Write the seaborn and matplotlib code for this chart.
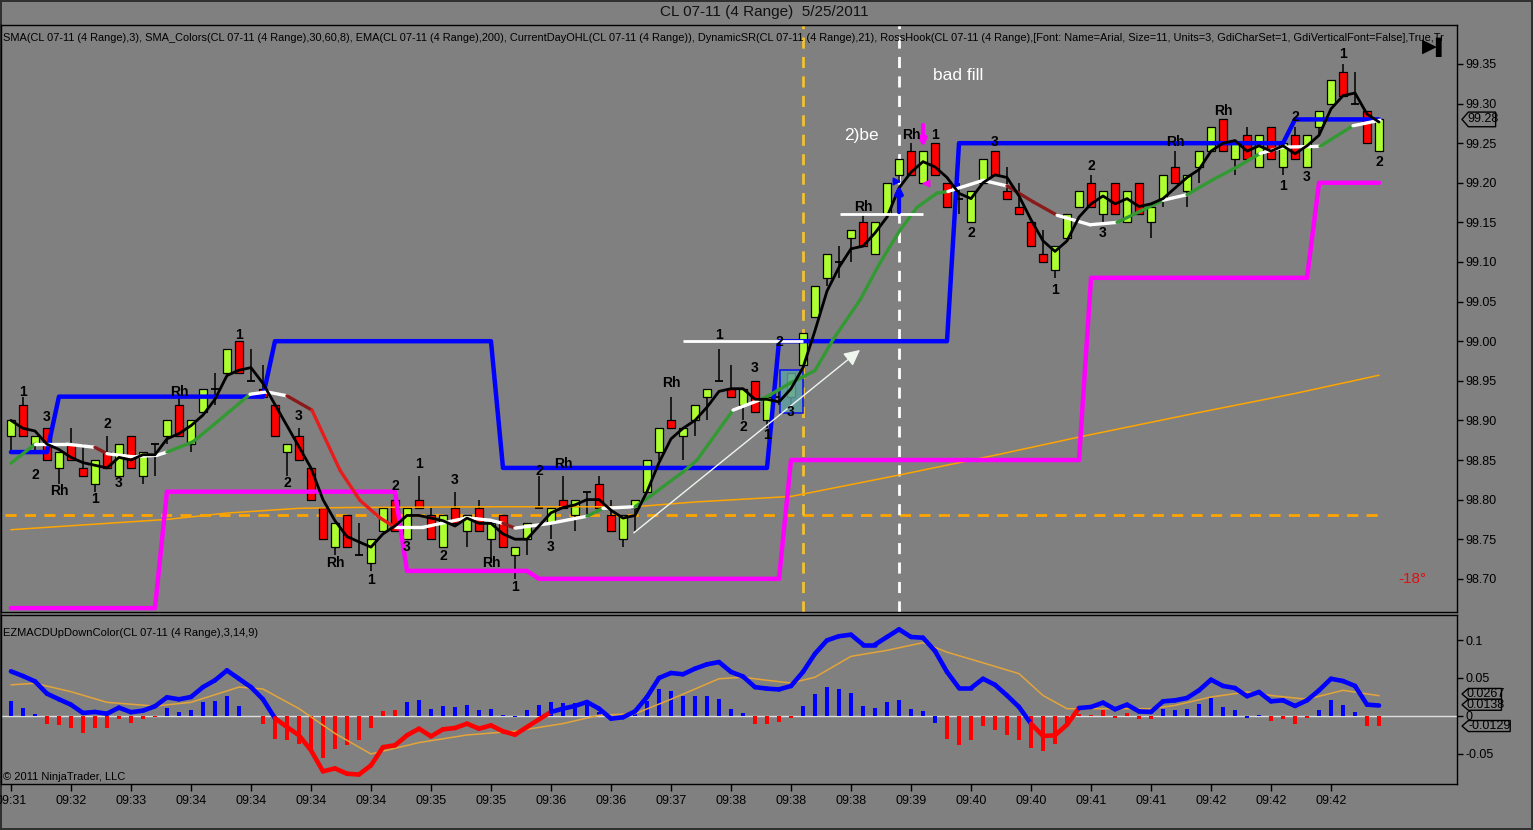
import numpy as np
import pandas as pd
import matplotlib
matplotlib.use("Agg")
import matplotlib.pyplot as plt
import matplotlib.transforms as mtransforms
from matplotlib.collections import LineCollection
from matplotlib.patches import Rectangle, Polygon
import seaborn as sns

sns.set_theme(style="white")
NARROW = ['Liberation Sans Narrow', 'Liberation Sans', 'DejaVu Sans']
plt.rcParams['font.family'] = NARROW
plt.rcParams['axes.unicode_minus'] = False

# ---------------- data ----------------
opens = [
    98.88, 98.92, 98.87, 98.89, 98.84, 98.87, 98.84, 98.82, 98.86, 98.83,
    98.88, 98.83, 98.87, 98.88, 98.92, 98.87, 98.91, 98.94, 98.96, 99.00,
    98.95, 98.94, 98.92, 98.86, 98.88, 98.84, 98.79, 98.74, 98.78, 98.73,
    98.72, 98.76, 98.80, 98.75, 98.80, 98.78, 98.74, 98.79, 98.76, 98.79,
    98.75, 98.78, 98.73, 98.75, 98.79, 98.77, 98.80, 98.78, 98.81, 98.82,
    98.78, 98.75, 98.79, 98.81, 98.86, 98.90, 98.88, 98.90, 98.93, 98.95,
    98.94, 98.92, 98.95, 98.90, 98.93, 98.93, 98.97, 99.03, 99.08, 99.10,
    99.13, 99.15, 99.11, 99.16, 99.21, 99.24, 99.20, 99.25, 99.20, 99.18,
    99.15, 99.20, 99.24, 99.19, 99.17, 99.15, 99.11, 99.09, 99.13, 99.17,
    99.20, 99.16, 99.20, 99.15, 99.20, 99.15, 99.18, 99.22, 99.19, 99.22,
    99.24, 99.28, 99.23, 99.26, 99.22, 99.27, 99.22, 99.26, 99.22, 99.27,
    99.30, 99.34, 99.30, 99.29, 99.24]
highs = [
    98.90, 98.93, 98.88, 98.89, 98.86, 98.89, 98.87, 98.85, 98.88, 98.87,
    98.88, 98.86, 98.87, 98.90, 98.93, 98.90, 98.94, 98.96, 98.99, 99.00,
    98.99, 98.97, 98.92, 98.87, 98.89, 98.84, 98.79, 98.77, 98.78, 98.77,
    98.75, 98.79, 98.80, 98.79, 98.83, 98.79, 98.78, 98.81, 98.78, 98.80,
    98.77, 98.78, 98.74, 98.77, 98.83, 98.79, 98.83, 98.80, 98.81, 98.83,
    98.80, 98.78, 98.80, 98.85, 98.89, 98.93, 98.89, 98.92, 98.94, 98.99,
    98.97, 98.94, 98.95, 98.93, 98.94, 98.96, 99.01, 99.07, 99.11, 99.12,
    99.14, 99.16, 99.15, 99.20, 99.23, 99.25, 99.24, 99.25, 99.20, 99.20,
    99.19, 99.23, 99.24, 99.22, 99.20, 99.15, 99.14, 99.12, 99.16, 99.19,
    99.21, 99.19, 99.20, 99.19, 99.20, 99.17, 99.21, 99.24, 99.21, 99.24,
    99.27, 99.28, 99.25, 99.27, 99.26, 99.27, 99.25, 99.27, 99.26, 99.29,
    99.33, 99.35, 99.34, 99.29, 99.28]
lows = [
    98.86, 98.88, 98.86, 98.85, 98.82, 98.85, 98.83, 98.81, 98.84, 98.83,
    98.84, 98.82, 98.83, 98.87, 98.88, 98.86, 98.91, 98.92, 98.96, 98.96,
    98.95, 98.93, 98.88, 98.83, 98.85, 98.80, 98.75, 98.73, 98.74, 98.73,
    98.71, 98.76, 98.76, 98.75, 98.79, 98.75, 98.74, 98.77, 98.74, 98.76,
    98.72, 98.74, 98.70, 98.73, 98.79, 98.75, 98.79, 98.76, 98.78, 98.79,
    98.76, 98.74, 98.76, 98.81, 98.85, 98.89, 98.85, 98.88, 98.90, 98.95,
    98.93, 98.90, 98.91, 98.89, 98.92, 98.92, 98.97, 99.03, 99.07, 99.08,
    99.10, 99.12, 99.11, 99.16, 99.20, 99.21, 99.20, 99.21, 99.17, 99.16,
    99.15, 99.20, 99.21, 99.18, 99.16, 99.12, 99.10, 99.08, 99.13, 99.17,
    99.17, 99.15, 99.16, 99.15, 99.16, 99.13, 99.17, 99.20, 99.17, 99.20,
    99.24, 99.24, 99.21, 99.23, 99.22, 99.23, 99.21, 99.23, 99.22, 99.26,
    99.30, 99.31, 99.30, 99.25, 99.24]
closes = [
    98.90, 98.88, 98.88, 98.85, 98.86, 98.85, 98.83, 98.85, 98.84, 98.87,
    98.84, 98.86, 98.87, 98.90, 98.88, 98.90, 98.94, 98.94, 98.99, 98.96,
    98.95, 98.93, 98.88, 98.87, 98.85, 98.80, 98.75, 98.77, 98.74, 98.73,
    98.75, 98.79, 98.76, 98.79, 98.79, 98.75, 98.78, 98.77, 98.78, 98.76,
    98.77, 98.74, 98.74, 98.77, 98.79, 98.79, 98.79, 98.80, 98.81, 98.79,
    98.76, 98.78, 98.80, 98.85, 98.89, 98.89, 98.89, 98.92, 98.94, 98.95,
    98.93, 98.94, 98.91, 98.93, 98.93, 98.96, 99.01, 99.07, 99.11, 99.10,
    99.14, 99.12, 99.15, 99.20, 99.23, 99.21, 99.24, 99.21, 99.17, 99.18,
    99.19, 99.23, 99.21, 99.18, 99.16, 99.12, 99.10, 99.12, 99.16, 99.19,
    99.17, 99.19, 99.16, 99.19, 99.16, 99.17, 99.21, 99.20, 99.21, 99.24,
    99.27, 99.24, 99.25, 99.23, 99.26, 99.23, 99.25, 99.23, 99.26, 99.29,
    99.33, 99.31, 99.30, 99.25, 99.28]

time_labels = ["09:31", "09:32", "09:33", "09:34", "09:34", "09:34", "09:34", "09:35",
               "09:35", "09:36", "09:36", "09:37", "09:38", "09:38", "09:38", "09:39",
               "09:40", "09:40", "09:41", "09:41", "09:42", "09:42", "09:42"]
price_ticks = [98.70, 98.75, 98.80, 98.85, 98.90, 98.95, 99.00, 99.05, 99.10, 99.15,
               99.20, 99.25, 99.30, 99.35]

# colored moving average (SMA_Colors) read at sample points
colsma_x = [0, 2, 4.67, 7, 8, 10.17, 12.17, 13, 15.17, 17.17, 19.92, 21.33, 23, 25.08,
            27.42, 29.08, 30.75, 32, 34.33, 38, 39.92, 41, 42, 44.92, 48, 49.33, 52,
            53.25, 56, 57.17, 60.17, 62.42, 63, 64.92, 66, 67, 68.5, 70.75, 72.42,
            74.08, 75.5, 77.17, 78.08, 81, 83, 85.17, 87.17, 89.92, 92.17, 96, 98,
            100.17, 102.17, 104.08, 106, 109.08, 111.83, 114.08]
colsma_y = [98.846, 98.870, 98.870, 98.866, 98.858, 98.854, 98.856, 98.860, 98.873,
            98.898, 98.933, 98.936, 98.931, 98.913, 98.837, 98.799, 98.777, 98.765,
            98.765, 98.777, 98.774, 98.770, 98.764, 98.770, 98.779, 98.789, 98.791,
            98.804, 98.835, 98.850, 98.913, 98.926, 98.930, 98.947, 98.955, 98.963,
            99.002, 99.052, 99.099, 99.140, 99.169, 99.187, 99.189, 99.203, 99.196,
            99.176, 99.159, 99.147, 99.150, 99.178, 99.185, 99.204, 99.220, 99.237,
            99.245, 99.246, 99.272, 99.279]
colsma_state = "GWWDWWWGGG" "WWDRRRRWWW" "WDWWGWGGGG" "WGGGGGGGGG" "GGWWDDWWGW" "GGGWWGW"

# EMA(200) read at sample points
ema_x = [0, 13, 18, 24, 28, 41, 52, 57, 65, 67, 74, 82, 89, 99, 107, 114]
ema_y = [98.762, 98.775, 98.783, 98.789, 98.790, 98.791, 98.791, 98.797, 98.804,
         98.810, 98.831, 98.856, 98.879, 98.910, 98.934, 98.957]

# DynamicSR levels (start bar, level)
sr_hi_start = [0, 4, 22, 41, 64, 79, 107]
sr_hi_level = [98.86, 98.93, 99.00, 98.84, 99.00, 99.25, 99.28]
sr_lo_start = [0, 13, 33, 44, 65, 90, 109]
sr_lo_level = [98.663, 98.81, 98.71, 98.70, 98.85, 99.08, 99.20]
day_open = 98.78

# RossHook swing labels: bar, text, price position
lab_bar = [1, 2, 3, 4, 7, 8, 9, 14, 19, 23, 24, 27, 30, 32, 33, 34, 36, 37, 40, 42, 44,
           45, 46, 55, 59, 61, 62, 63, 64, 65, 71, 75, 77, 80, 82, 87, 90, 91, 97, 101,
           106, 107, 108, 111, 114]
lab_txt = ["1", "2", "3", "Rh", "1", "2", "3", "Rh", "1", "2", "3", "Rh", "1", "2", "3",
           "1", "2", "3", "Rh", "1", "2", "3", "Rh", "Rh", "1", "2", "3", "1", "2", "3",
           "Rh", "Rh", "1", "2", "3", "1", "2", "3", "Rh", "Rh", "1", "2", "3", "1", "2"]
lab_y = [98.936, 98.831, 98.904, 98.811, 98.801, 98.895, 98.821, 98.936, 99.008, 98.821,
         98.906, 98.720, 98.698, 98.817, 98.740, 98.845, 98.729, 98.825, 98.720, 98.690,
         98.836, 98.740, 98.845, 98.947, 99.008, 98.892, 98.966, 98.882, 98.999, 98.911,
         99.169, 99.260, 99.260, 99.137, 99.252, 99.065, 99.221, 99.137, 99.252, 99.291,
         99.196, 99.283, 99.207, 99.363, 99.226]

# MACD panel
macd = [0.0588, 0.0526, 0.0456, 0.0294, 0.022, 0.0149, 0.004, 0.0053, 0.003, 0.011,
        0.005, 0.007, 0.0128, 0.0246, 0.022, 0.025, 0.038, 0.047, 0.060, 0.049,
        0.038, 0.022, -0.003, -0.0145, -0.0254, -0.0452, -0.0728, -0.069, -0.076, -0.077,
        -0.065, -0.041, -0.0386, -0.0254, -0.0167, -0.0268, -0.0175, -0.0158, -0.0101, -0.0167,
        -0.0123, -0.0202, -0.0246, -0.0145, -0.0044, 0.0053, 0.0097, 0.0132, 0.0184, 0.0097,
        -0.0035, -0.0017, 0.006, 0.025, 0.050, 0.0566, 0.0549, 0.0623, 0.068, 0.071,
        0.058, 0.052, 0.038, 0.036, 0.035, 0.0395, 0.058, 0.082, 0.0996, 0.105,
        0.107, 0.094, 0.094, 0.104, 0.114, 0.104, 0.103, 0.0855, 0.058, 0.0368,
        0.0368, 0.049, 0.041, 0.027, 0.0118, -0.0101, -0.0263, -0.0254, -0.0114, 0.0105,
        0.0118, 0.0176, 0.0088, 0.0149, 0.006, 0.0053, 0.0193, 0.0206, 0.0237, 0.0338,
        0.0478, 0.0395, 0.0368, 0.026, 0.0316, 0.0193, 0.0206, 0.0132, 0.0206, 0.0338,
        0.049, 0.046, 0.0395, 0.0149, 0.0138]
hist = [0.0197, 0.0101, 0.0026, -0.0101, -0.0123, -0.0154, -0.022, -0.0154, -0.0154, -0.0035,
        -0.0088, -0.0035, -0.001, 0.0101, 0.0048, 0.008, 0.018, 0.020, 0.026, 0.013,
        0.0, -0.0101, -0.030, -0.032, -0.0364, -0.043, -0.055, -0.043, -0.0386, -0.031,
        -0.0154, 0.0066, 0.008, 0.018, 0.0215, 0.0092, 0.0128, 0.0114, 0.0145, 0.008,
        0.0092, 0.0013, -0.001, 0.008, 0.0145, 0.019, 0.017, 0.0167, 0.019, 0.0048,
        0.0, 0.0, 0.0026, 0.020, 0.036, 0.0329, 0.026, 0.026, 0.026, 0.022,
        0.0092, 0.0035, -0.0105, -0.0105, -0.0083, -0.002, 0.0128, 0.0294, 0.038, 0.036,
        0.030, 0.0128, 0.010, 0.018, 0.0215, 0.0092, 0.006, -0.0097, -0.030, -0.0386,
        -0.031, -0.0136, -0.019, -0.0254, -0.032, -0.042, -0.0465, -0.0364, -0.0127, 0.0026,
        0.0018, 0.008, -0.002, 0.0035, -0.0035, -0.0035, 0.0092, 0.008, 0.0092, 0.016,
        0.0237, 0.0114, 0.008, -0.002, 0.0018, -0.0061, -0.0035, -0.0105, -0.003, 0.008,
        0.0215, 0.0145, 0.0048, -0.0136, -0.0129]
hist_state = ("BBB" + "R" * 10 + "B" * 8 + "R" * 12 + "B" * 29 + "R" * 4 + "B" * 12 +
              "R" * 18 + "B" * 9 + "R" * 4 + "B" * 4 + "R" * 2)
sig_x = [0, 2, 5, 8, 12, 15, 19, 21, 24, 27, 30, 34, 38, 42, 46, 49, 52, 55, 59, 61,
         63, 65, 67, 70, 73, 76, 78, 81, 84, 86, 88, 92, 95, 97, 100, 103, 105, 108, 111, 114]
sig_y = [0.041, 0.043, 0.032, 0.018, 0.013, 0.018, 0.038, 0.0355, 0.0097, -0.023,
         -0.050, -0.035, -0.025, -0.020, -0.010, 0.001, 0.003, 0.022, 0.049, 0.051,
         0.047, 0.0434, 0.051, 0.0785, 0.0864, 0.0965, 0.084, 0.070, 0.0557, 0.027,
         0.0096, 0.0096, 0.0096, 0.014, 0.025, 0.0316, 0.027, 0.022, 0.0338, 0.0267]
macd_ticks = [0.1, 0.05, 0.0, -0.05]
macd_tick_labels = ["0.1", "0.05", "0", "-0.05"]

# ---------------- styling ----------------
BG = '#808080'
GREEN = '#adff2f'
RED = '#ff0000'
COLMAP = {'G': '#339933', 'W': '#ffffff', 'D': '#8b1a1a', 'R': '#e81c1c'}

fig = plt.figure(figsize=(15.33, 8.30), dpi=100, facecolor=BG)
ax = fig.add_axes([0.00065, 0.26265, 0.9498, 0.70723], facecolor=BG)
ax2 = fig.add_axes([0.00065, 0.05542, 0.9498, 0.20361], facecolor=BG)

n = len(closes)
x = np.arange(n)
o = np.array(opens); h = np.array(highs); l = np.array(lows); c = np.array(closes)

# ---- candles ----
ax.vlines(x, l, h, color='black', lw=1.1, zorder=3)
doji = np.isclose(o, c)
nd = ~doji
lo_b = np.minimum(o, c); hi_b = np.maximum(o, c)
bcol = np.where(c > o, GREEN, RED)
ax.bar(x[nd], (hi_b - lo_b)[nd], bottom=lo_b[nd], width=0.66, color=bcol[nd],
       edgecolor='black', linewidth=0.9, zorder=4)
ax.hlines(o[doji], x[doji] - 0.33, x[doji] + 0.33, color='black', lw=1.3, zorder=4)

# ---- overlays ----
ax.hlines(day_open, -0.5, 114.5, color='#ffa500', lw=2, linestyles=(0, (4, 3)), zorder=2)
ax.axvline(66, color='#f2c230', lw=2, ls=(0, (4, 3)), zorder=2)
ax.axvline(74, color='#ffffff', lw=2, ls=(0, (4, 3)), zorder=2)

sns.lineplot(x=ema_x, y=ema_y, ax=ax, color='#ffa500', lw=1.1, zorder=5, legend=False)


def steps(starts, levels, count):
    reps = np.diff(list(starts) + [count])
    return np.repeat(levels, reps)


ax.plot(x, steps(sr_hi_start, sr_hi_level, n), color='#0000ff', lw=3.2, zorder=6)
ax.plot(x, steps(sr_lo_start, sr_lo_level, n), color='#ff00ff', lw=3.2, zorder=6)

ax.add_patch(Rectangle((64.1, 98.909), 1.9, 0.055, facecolor='#5f9ea0', alpha=0.85,
                       edgecolor='#0000ff', lw=1.2, zorder=5))

pts = np.column_stack([colsma_x, colsma_y])
segs = np.stack([pts[:-1], pts[1:]], axis=1)
ax.add_collection(LineCollection(segs, colors=[COLMAP[k] for k in colsma_state],
                                 linewidths=2.4, zorder=7, capstyle='round'))

sma3 = pd.Series(closes).rolling(3, min_periods=1).mean()
sns.lineplot(x=x, y=sma3.values, ax=ax, color='black', lw=2, zorder=8, legend=False)

ax.hlines(99.00, 56, 66, color='white', lw=2, zorder=8)
ax.hlines(99.16, 69.1, 76, color='white', lw=2, zorder=8)

ax.annotate('', xy=(70.75, 98.989), xytext=(51.9, 98.758),
            arrowprops=dict(arrowstyle='-|>', color='#eef6ee', lw=1, mutation_scale=24,
                            shrinkA=0, shrinkB=0), zorder=8)
ax.annotate('', xy=(74, 99.197), xytext=(74, 99.163),
            arrowprops=dict(arrowstyle='-|>', color='#0000ff', lw=3, mutation_scale=10,
                            shrinkA=0, shrinkB=0), zorder=9)
ax.annotate('', xy=(76, 99.245), xytext=(76, 99.273),
            arrowprops=dict(arrowstyle='-|>', color='#ff00ff', lw=3, mutation_scale=10,
                            shrinkA=0, shrinkB=0), zorder=9)
ax.scatter([73.75], [99.202], marker='>', color='#0000ff', s=22, zorder=9)
ax.scatter([76.25], [99.200], marker='<', color='#ff00ff', s=22, zorder=9)

for b, t, yv in zip(lab_bar, lab_txt, lab_y):
    ax.text(b, yv, t, ha='center', va='center', fontsize=10, fontweight='bold',
            family=['Liberation Sans', 'DejaVu Sans'], color='black', zorder=10)

ax.text(78.9, 99.336, "bad fill", color='white', fontsize=12.5, ha='center', va='center',
        family=['Liberation Sans', 'DejaVu Sans'], zorder=10)
ax.text(70.9, 99.26, "2)be", color='white', fontsize=12.5, ha='center', va='center',
        family=['Liberation Sans', 'DejaVu Sans'], zorder=10)
ax.text(116.8, 98.70, "-18°", color='#e01010', fontsize=11, ha='center', va='center',
        family=['Liberation Sans', 'DejaVu Sans'], zorder=10)

ind_text = ("SMA(CL 07-11 (4 Range),3), SMA_Colors(CL 07-11 (4 Range),30,60,8), "
            "EMA(CL 07-11 (4 Range),200), CurrentDayOHL(CL 07-11 (4 Range)), "
            "DynamicSR(CL 07-11 (4 Range),21), RossHook(CL 07-11 (4 Range),[Font: Name=Arial, "
            "Size=11, Units=3, GdiCharSet=1, GdiVerticalFont=False],True,Tr")
ax.text(0.0015, 0.978, ind_text, transform=ax.transAxes, fontsize=7.95, ha='left',
        va='center', clip_on=True, color='black', zorder=11)

# ---- MACD panel ----
ax2.axhline(0, color='#dddddd', lw=1, zorder=2)
hcol = ['#0000ff' if s == 'B' else '#ff0000' for s in hist_state]
ax2.bar(x, hist, width=0.27, color=hcol, edgecolor='none', linewidth=0, zorder=3)
sns.lineplot(x=sig_x, y=sig_y, ax=ax2, color='#e3a53a', lw=1.1, zorder=4, legend=False)

macd_arr = np.array(macd)
neg = macd_arr < 0
red_flag = np.zeros(n, dtype=bool)
i = 0
while i < n:
    if neg[i]:
        j = i
        while j < n and neg[j]:
            j += 1
        if j - i >= 3:
            red_flag[i:j] = True
        i = j
    else:
        i += 1
mpts = np.column_stack([x, macd_arr])
msegs = np.stack([mpts[:-1], mpts[1:]], axis=1)
mcols = ['#ff0000' if red_flag[k] else '#0000ff' for k in range(n - 1)]
ax2.add_collection(LineCollection(msegs, colors=mcols, linewidths=3.3, zorder=5,
                                  capstyle='round', joinstyle='round'))

ax2.text(0.0015, 0.893, "EZMACDUpDownColor(CL 07-11 (4 Range),3,14,9)", transform=ax2.transAxes,
         fontsize=8, ha='left', va='center', color='black')
ax2.text(0.0015, 0.041, "© 2011 NinjaTrader, LLC", transform=ax2.transAxes,
         fontsize=8, ha='left', va='center', color='black')

# ---- axes ----
XL = (-0.83, 120.5)
for a in (ax, ax2):
    a.set_xlim(*XL)
    a.set_xlabel('')
    a.set_ylabel('')
    a.grid(False)
    for sp in a.spines.values():
        sp.set_color('black')
        sp.set_linewidth(1)
    a.yaxis.tick_right()
    a.tick_params(axis='y', direction='out', length=4, width=1, colors='black',
                  labelsize=9, pad=2, right=True, left=False)

ax.set_ylim(98.6581, 99.3992)
ax.set_yticks(price_ticks)
ax.set_yticklabels([f"{p:.2f}" for p in price_ticks])
ax.tick_params(axis='x', bottom=False, labelbottom=False)

ax2.set_ylim(-0.0895, 0.1329)
ax2.set_yticks(macd_ticks)
ax2.set_yticklabels(macd_tick_labels)
ax2.set_xticks(list(range(0, 5 * len(time_labels), 5)))
ax2.set_xticklabels(time_labels)
ax2.tick_params(axis='x', direction='out', length=5, width=1, colors='black',
                labelsize=9, pad=3, bottom=True)


def value_box(axis, yv, text, hgt, xr):
    trans = mtransforms.blended_transform_factory(axis.transAxes, axis.transData)
    x0, x1 = 1.0034, 1.0078
    poly = Polygon([(x0, yv), (x1, yv + hgt / 2), (xr, yv + hgt / 2), (xr, yv - hgt / 2),
                    (x1, yv - hgt / 2)], closed=True, transform=trans, facecolor=BG,
                   edgecolor='black', lw=1, clip_on=False, zorder=20)
    axis.add_artist(poly)
    axis.text((x1 + xr) / 2 + 0.0005, yv, text, transform=trans, ha='center', va='center',
              fontsize=9, zorder=21, clip_on=False, color='black')


value_box(ax, 99.28, "99.28", 0.0185, 1.0265)
value_box(ax2, 0.029, "0.0267", 0.0145, 1.0305)
value_box(ax2, 0.0148, "0.0138", 0.0145, 1.0305)
value_box(ax2, -0.0132, "-0.0129", 0.0145, 1.0365)

fig.text(0.4985, 1 - 12 / 830, "CL 07-11 (4 Range)  5/25/2011", ha='center', va='center',
         fontsize=11, color='#111111')
fig.text(1437 / 1533, 1 - 47 / 830, "▶▍", ha='center', va='center', fontsize=14,
         family=['DejaVu Sans'], color='black')

fig.patch.set_edgecolor('#303030')
fig.patch.set_linewidth(1.5)
fig.savefig('out.png', dpi=100, facecolor=BG, edgecolor='#303030')
